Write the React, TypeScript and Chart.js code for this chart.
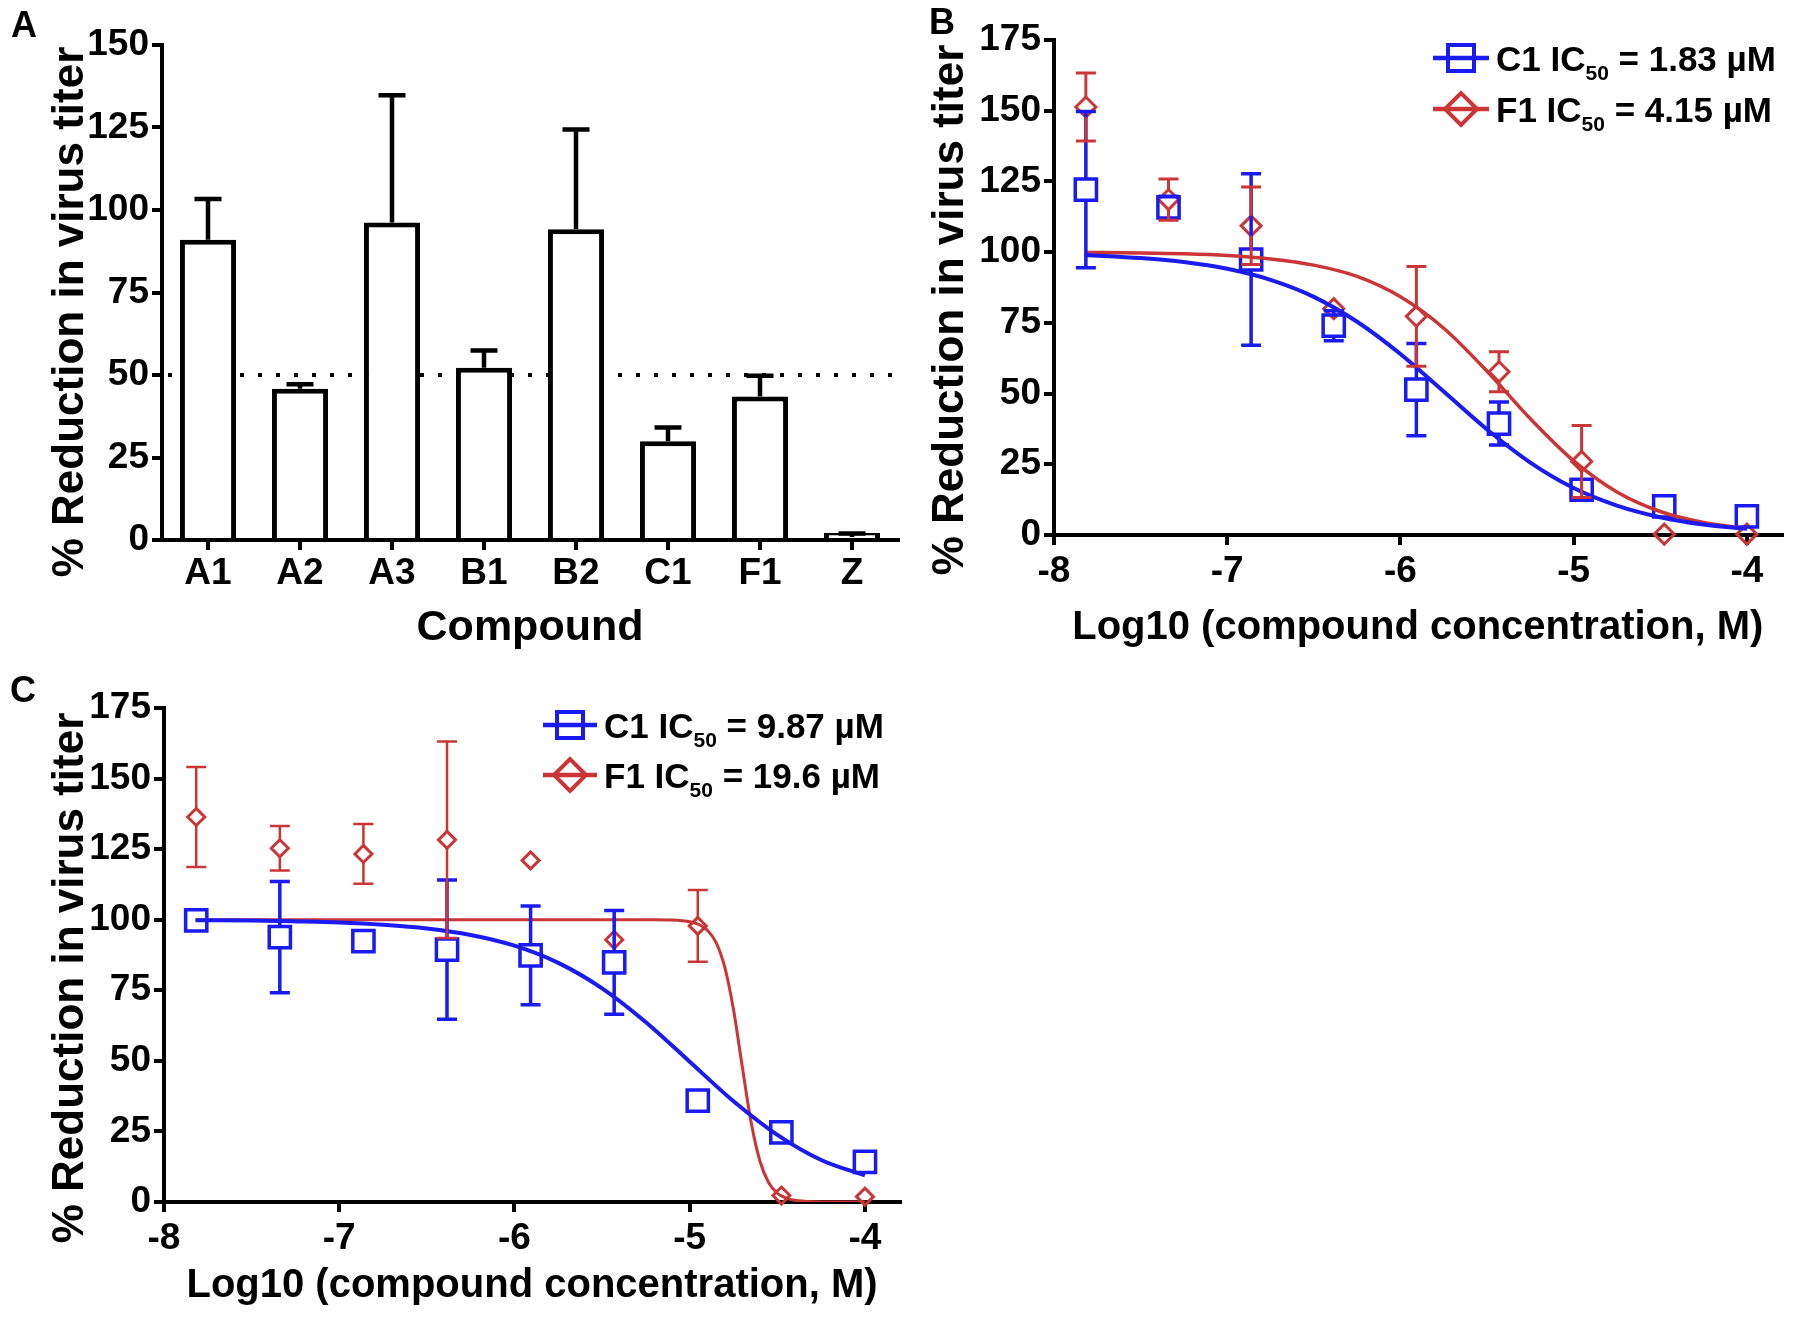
import React, { useEffect, useRef } from 'react';
import { Chart, registerables } from 'chart.js';
Chart.register(...registerables);

const FONT = "'Liberation Sans', Arial, Helvetica, sans-serif";
const NARROW = "'Liberation Sans Narrow', 'Arial Narrow', 'Liberation Sans', Arial, sans-serif";
const BLUE = '#1a1af2';
const RED = '#cc3535';
const Y_TITLE = '% Reduction in virus titer';
const X_TITLE_LOG = 'Log10 (compound concentration, M)';

// ---------- Panel A ----------
const compounds = ['A1', 'A2', 'A3', 'B1', 'B2', 'C1', 'F1', 'Z'];
const reductionMean = [91, 45.8, 96.2, 52.2, 94.2, 29.9, 43.5, 0.9];
const reductionSD = [12.3, 1.4, 38.6, 5.2, 30.2, 4.2, 6.3, 1.1];
const thresholdA = 50;
const yTicksA = [0, 25, 50, 75, 100, 125, 150];

// ---------- Shared dose axis ----------
const logConc = [-7.816, -7.339, -6.862, -6.385, -5.908, -5.431, -4.954, -4.477, -4.0];
const xTicksLog = [-8, -7, -6, -5, -4];
const yTicksDose = [0, 25, 50, 75, 100, 125, 150, 175];

// ---------- Panel B ----------
const bC1Mean = [122.1, 115.8, 97.4, 74.0, 51.4, 39.4, 16.0, 10.1, 6.6];
const bC1SD = [27.6, 4.0, 30.3, 5.3, 16.3, 7.6, 2.5, 0, 0];
const bF1Mean = [151.3, 118.6, 109.3, 80.0, 77.3, 57.7, 26.0, 0.3, 0.3];
const bF1SD = [12.0, 7.3, 13.7, 1.5, 17.6, 7.1, 12.7, 0, 0];
const bFitX = [-7.82, -7.5, -7.25, -7, -6.75, -6.5, -6.25, -6, -5.75, -5.5, -5.25, -5, -4.75, -4.5, -4.25, -4];
const bFitC1 = [99.0, 97.9, 96.5, 94.1, 90.2, 84.2, 75.4, 64.0, 50.7, 37.3, 25.6, 16.6, 10.4, 6.3, 3.7, 2.2];
const bFitF1 = [99.9, 99.7, 99.4, 98.8, 97.6, 95.4, 91.4, 84.2, 73.1, 57.9, 41.1, 26.2, 15.2, 8.3, 4.4, 2.3];
const bLegendNames = ['C1', 'F1'];
const bLegendIC50 = ['1.83 µM', '4.15 µM'];

// ---------- Panel C ----------
const cC1Mean = [99.8, 93.8, 92.4, 89.4, 87.4, 84.9, 35.9, 24.7, 14.2];
const cC1SD = [0, 19.7, 0, 24.7, 17.5, 18.4, 0, 0, 0];
const cF1Mean = [136.4, 125.3, 123.3, 128.3, 121.0, 92.9, 97.8, 2.3, 1.9];
const cF1SD = [17.7, 7.9, 10.6, 34.8, 0, 0, 12.7, 0, 0];
const cFitC1X = [-7.82, -7.5, -7.25, -7, -6.75, -6.5, -6.25, -6, -5.75, -5.5, -5.25, -5, -4.75, -4.5, -4.25, -4];
const cFitC1 = [99.8, 99.7, 99.4, 99.0, 98.2, 96.9, 94.6, 90.8, 84.7, 75.7, 63.7, 49.7, 35.7, 23.8, 14.9, 9.4];
const cFitF1X = [-7.82, -7, -6, -5.5, -5.2, -5.1, -5, -4.95, -4.9, -4.85, -4.8, -4.75, -4.7, -4.65, -4.6, -4.55, -4.5, -4.45, -4.4, -4.3, -4.15, -4];
const cFitF1 = [100, 100, 100, 100, 100, 99.9, 99.3, 98.4, 96.3, 92.0, 83.2, 68.1, 47.9, 28.4, 14.6, 6.9, 3.1, 1.4, 0.6, 0.1, 0, 0];
const cLegendNames = ['C1', 'F1'];
const cLegendIC50 = ['9.87 µM', '19.6 µM'];

type ErrSeries = {
  xs: number[]; ys: number[]; sd: number[]; color: string; width: number; cap: number; gap: number; upOnly?: boolean;
};

function errorBarPlugin(series: ErrSeries[]) {
  return {
    id: 'errBars',
    afterDatasetsDraw(chart: any) {
      const { ctx } = chart;
      const x = chart.scales.x;
      const y = chart.scales.y;
      ctx.save();
      series.forEach((s) => {
        ctx.strokeStyle = s.color;
        ctx.lineWidth = s.width;
        ctx.lineCap = 'butt';
        s.ys.forEach((m, i) => {
          const e = s.sd[i];
          if (!e) return;
          const px = x.getPixelForValue(s.xs[i]);
          const py = y.getPixelForValue(m);
          const top = y.getPixelForValue(m + e);
          const bot = y.getPixelForValue(m - e);
          ctx.beginPath();
          if (top < py - s.gap) {
            ctx.moveTo(px, py - s.gap);
            ctx.lineTo(px, top);
            ctx.moveTo(px - s.cap / 2, top);
            ctx.lineTo(px + s.cap / 2, top);
          }
          if (!s.upOnly && bot > py + s.gap) {
            ctx.moveTo(px, py + s.gap);
            ctx.lineTo(px, bot);
            ctx.moveTo(px - s.cap / 2, bot);
            ctx.lineTo(px + s.cap / 2, bot);
          }
          ctx.stroke();
        });
      });
      ctx.restore();
    },
  };
}

function yTitlePlugin(cx: number, cy: number, size: number) {
  return {
    id: 'yTitle',
    afterDraw(chart: any) {
      const { ctx } = chart;
      ctx.save();
      ctx.translate(cx, cy);
      ctx.rotate(-Math.PI / 2);
      ctx.font = `bold ${size}px ${FONT}`;
      ctx.fillStyle = '#000';
      ctx.textAlign = 'center';
      ctx.textBaseline = 'middle';
      ctx.fillText(Y_TITLE, 0, 0);
      ctx.restore();
    },
  };
}

type LegendRow = { name: string; ic50: string; color: string; style: 'rect' | 'diamond'; y: number };

function legendPlugin(rows: LegendRow[], lineX0: number, lineX1: number, textX: number, size: number) {
  return {
    id: 'icLegend',
    afterDraw(chart: any) {
      const { ctx } = chart;
      ctx.save();
      rows.forEach((r) => {
        const cx = (lineX0 + lineX1) / 2;
        ctx.strokeStyle = r.color;
        ctx.lineWidth = 4.5;
        ctx.beginPath();
        ctx.moveTo(lineX0, r.y);
        ctx.lineTo(lineX1, r.y);
        ctx.stroke();
        ctx.lineWidth = 4;
        ctx.beginPath();
        if (r.style === 'rect') {
          ctx.rect(cx - 13, r.y - 13, 26, 26);
        } else {
          ctx.moveTo(cx - 16, r.y);
          ctx.lineTo(cx, r.y - 16);
          ctx.lineTo(cx + 16, r.y);
          ctx.lineTo(cx, r.y + 16);
          ctx.closePath();
        }
        ctx.stroke();
        const base = r.y + size * 0.36;
        ctx.fillStyle = '#000';
        ctx.textBaseline = 'alphabetic';
        ctx.textAlign = 'left';
        ctx.font = `bold ${size}px ${FONT}`;
        const t1 = `${r.name} IC`;
        ctx.fillText(t1, textX, base);
        let xx = textX + ctx.measureText(t1).width;
        ctx.font = `bold ${Math.round(size * 0.6)}px ${FONT}`;
        ctx.fillText('50', xx, base + 9);
        xx += ctx.measureText('50').width;
        ctx.font = `bold ${size}px ${FONT}`;
        ctx.fillText(` = ${r.ic50}`, xx, base);
      });
      ctx.restore();
    },
  };
}

const thresholdPlugin = {
  id: 'threshold',
  beforeDatasetsDraw(chart: any) {
    const { ctx, chartArea } = chart;
    const y = chart.scales.y.getPixelForValue(thresholdA);
    ctx.save();
    ctx.strokeStyle = '#000';
    ctx.lineWidth = 4;
    ctx.setLineDash([4, 14]);
    ctx.beginPath();
    ctx.moveTo(chartArea.left + 6, y);
    ctx.lineTo(chartArea.right, y);
    ctx.stroke();
    ctx.restore();
  },
};

const numFont = { family: NARROW, size: 37, weight: 'bold' as const };
const catFont = { family: FONT, size: 37, weight: 'bold' as const };
const titleFont = { family: FONT, size: 43, weight: 'bold' as const };
const xTitleFont = { family: FONT, size: 40, weight: 'bold' as const };

const axisStyle = {
  border: { display: true, color: '#000', width: 4 },
  grid: { display: true, drawOnChartArea: false, drawTicks: true, tickLength: 10, color: '#000', lineWidth: 4 },
};

function doseConfig(
  c1Mean: number[], c1SD: number[], f1Mean: number[], f1SD: number[],
  fitC1X: number[], fitC1: number[], fitF1X: number[], fitF1: number[],
  names: string[], ic50s: string[],
  dims: { yW: number; xH: number; pad: any; yTitleX: number; yTitleY: number; xTitlePad: number; legX0: number; legX1: number; legText: number; legY: number[]; diamond: number; redW: number; redFitW: number }
) {
  const pts = (ys: number[]) => logConc.map((x, i) => ({ x, y: ys[i] }));
  const fit = (xs: number[], ys: number[]) => xs.map((x, i) => ({ x, y: ys[i] }));
  return {
    type: 'line',
    data: {
      datasets: [
        { data: fit(fitC1X, fitC1), borderColor: BLUE, borderWidth: 4, pointRadius: 0, cubicInterpolationMode: 'monotone', fill: false },
        { data: fit(fitF1X, fitF1), borderColor: RED, borderWidth: dims.redFitW, pointRadius: 0, cubicInterpolationMode: 'monotone', fill: false },
        { data: pts(c1Mean), showLine: false, clip: false, pointStyle: 'rect', pointRadius: 15, pointBorderWidth: 3.5, borderColor: BLUE, pointBackgroundColor: 'rgba(0,0,0,0)' },
        { data: pts(f1Mean), showLine: false, clip: false, pointStyle: 'rectRot', pointRadius: dims.diamond, pointBorderWidth: 3, borderColor: RED, pointBackgroundColor: 'rgba(0,0,0,0)' },
      ],
    },
    options: {
      animation: false,
      responsive: false,
      devicePixelRatio: 1,
      layout: { padding: dims.pad },
      plugins: { legend: { display: false }, tooltip: { enabled: false } },
      scales: {
        x: {
          type: 'linear', min: -8, max: -3.8,
          afterBuildTicks: (s: any) => { s.ticks = xTicksLog.map((v) => ({ value: v })); },
          afterFit: (s: any) => { s.height = dims.xH; },
          ticks: { font: numFont, color: '#000', padding: 5, callback: (v: any) => `${v}` },
          title: { display: true, text: X_TITLE_LOG, font: xTitleFont, color: '#000', padding: { top: 0, bottom: dims.xTitlePad } },
          ...axisStyle,
        },
        y: {
          type: 'linear', min: 0, max: 175,
          afterBuildTicks: (s: any) => { s.ticks = yTicksDose.map((v) => ({ value: v })); },
          afterFit: (s: any) => { s.width = dims.yW; },
          ticks: { font: numFont, color: '#000', padding: 3, callback: (v: any) => `${v}` },
          ...axisStyle,
        },
      },
    },
    plugins: [
      errorBarPlugin([
        { xs: logConc, ys: c1Mean, sd: c1SD, color: BLUE, width: 3.5, cap: 20, gap: 11 },
        { xs: logConc, ys: f1Mean, sd: f1SD, color: RED, width: dims.redW, cap: 20, gap: dims.diamond },
      ]),
      yTitlePlugin(dims.yTitleX, dims.yTitleY, 44),
      legendPlugin(
        [
          { name: names[0], ic50: ic50s[0], color: BLUE, style: 'rect', y: dims.legY[0] },
          { name: names[1], ic50: ic50s[1], color: RED, style: 'diamond', y: dims.legY[1] },
        ],
        dims.legX0, dims.legX1, dims.legText, 35
      ),
    ],
  };
}

function configA() {
  return {
    type: 'bar',
    data: {
      labels: compounds,
      datasets: [
        {
          data: reductionMean, backgroundColor: '#fff', borderColor: '#000', borderWidth: 5,
          borderSkipped: 'start', barPercentage: 0.61, categoryPercentage: 1, minBarLength: 7,
        },
      ],
    },
    options: {
      animation: false,
      responsive: false,
      devicePixelRatio: 1,
      layout: { padding: { left: 0, top: 45, right: 22, bottom: 0 } },
      plugins: { legend: { display: false }, tooltip: { enabled: false } },
      scales: {
        x: {
          type: 'category', offset: true,
          afterFit: (s: any) => { s.height = 120; },
          ticks: { font: catFont, color: '#000', padding: 2 },
          title: { display: true, text: 'Compound', font: titleFont, color: '#000', padding: { top: 0, bottom: 6 } },
          ...axisStyle,
          grid: { ...axisStyle.grid, offset: false },
        },
        y: {
          type: 'linear', min: 0, max: 150,
          afterBuildTicks: (s: any) => { s.ticks = yTicksA.map((v) => ({ value: v })); },
          afterFit: (s: any) => { s.width = 162; },
          ticks: { font: numFont, color: '#000', padding: 3, callback: (v: any) => `${v}` },
          ...axisStyle,
        },
      },
    },
    plugins: [
      thresholdPlugin,
      errorBarPlugin([
        { xs: compounds.map((_, i) => i), ys: reductionMean, sd: reductionSD, color: '#000', width: 4.5, cap: 27, gap: 0, upOnly: true },
      ]),
      yTitlePlugin(71, 312, 44),
    ],
  };
}

function ChartCanvas({ build, left, top, width, height }: { build: () => any; left: number; top: number; width: number; height: number }) {
  const ref = useRef<HTMLCanvasElement | null>(null);
  useEffect(() => {
    if (!ref.current) return;
    const chart = new Chart(ref.current, build());
    return () => chart.destroy();
  }, []);
  return (
    <canvas
      ref={ref}
      width={width}
      height={height}
      style={{ position: 'absolute', left, top, width, height }}
    />
  );
}

const letterStyle = (left: number, top: number): React.CSSProperties => ({
  position: 'absolute', left, top, font: `bold 36px ${FONT}`, lineHeight: '36px', color: '#000',
});

export default function App() {
  return (
    <div style={{ position: 'absolute', left: 0, top: 0, width: 1800, height: 1317, background: '#fff', overflow: 'hidden' }}>
      <ChartCanvas build={configA} left={0} top={0} width={920} height={660} />
      <ChartCanvas
        build={() => doseConfig(bC1Mean, bC1SD, bF1Mean, bF1SD, bFitX, bFitC1, bFitX, bFitF1, bLegendNames, bLegendIC50, {
          yW: 134, xH: 125, pad: { left: 0, top: 40, right: 5, bottom: 0 }, yTitleX: 31, yTitleY: 310, xTitlePad: 8,
          legX0: 513, legX1: 569, legText: 576, legY: [58, 109], diamond: 10, redW: 3, redFitW: 3.5,
        })}
        left={920} top={0} width={880} height={660}
      />
      <ChartCanvas
        build={() => doseConfig(cC1Mean, cC1SD, cF1Mean, cF1SD, cFitC1X, cFitC1, cFitF1X, cFitF1, cLegendNames, cLegendIC50, {
          yW: 164, xH: 115, pad: { left: 0, top: 48, right: 20, bottom: 0 }, yTitleX: 71, yTitleY: 318, xTitlePad: 7,
          legX0: 543, legX1: 597, legText: 604, legY: [65, 115], diamond: 8.5, redW: 2.5, redFitW: 3,
        })}
        left={0} top={660} width={920} height={657}
      />
      <div style={letterStyle(11, 7)}>A</div>
      <div style={letterStyle(929, 4)}>B</div>
      <div style={letterStyle(10, 672)}>C</div>
    </div>
  );
}
